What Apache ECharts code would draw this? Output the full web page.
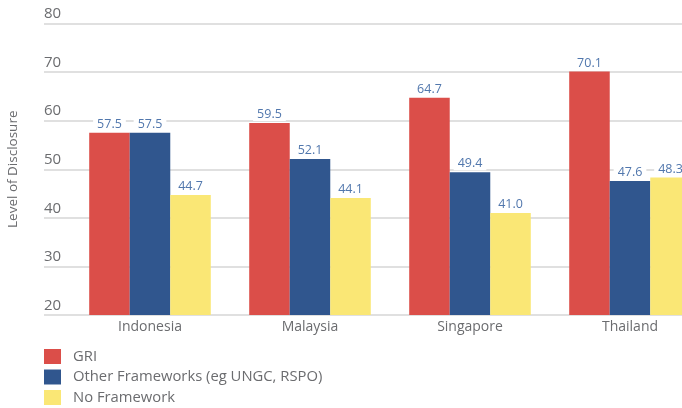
<!DOCTYPE html>
<html>
<head>
<meta charset="utf-8">
<script src="https://cdn.jsdelivr.net/npm/echarts@6/dist/echarts.min.js"></script>
<style>
  html, body { margin: 0; padding: 0; background: #fff; }
  #chart { width: 682px; height: 408px; }
</style>
</head>
<body>
<div id="chart"></div>
<script>
// Countries on the category axis
const countries = ['Indonesia', 'Malaysia', 'Singapore', 'Thailand'];

// Average level of disclosure by reporting framework
const griValues = [57.5, 59.5, 64.7, 70.1];
const otherValues = [57.5, 52.1, 49.4, 47.6];
const noFrameworkValues = [44.7, 44.1, 41.0, 48.3];

const seriesNames = ['GRI', 'Other Frameworks (eg UNGC, RSPO)', 'No Framework'];
const seriesColors = ['#DB4E49', '#30568E', '#FAE775'];

// Value axis range and tick step
const yMin = 20;
const yMax = 80;
const yStep = 10;

const FONT = '"Open Sans", "DejaVu Sans", sans-serif';
const TEXT_GREY = '#6b6c6f';
const LABEL_BLUE = '#5177ad';

const chart = echarts.init(document.getElementById('chart'), null, { renderer: 'canvas' });

const valueLabel = {
  show: true,
  position: 'top',
  distance: 2,
  color: LABEL_BLUE,
  fontFamily: FONT,
  fontSize: 12.5,
  backgroundColor: '#fff',
  padding: [0, 4, 0, 4],
  formatter: p => p.value.toFixed(1)
};

function barSeries(name, values, color) {
  return {
    name: name,
    type: 'bar',
    xAxisIndex: 0,
    yAxisIndex: 0,
    data: values,
    barGap: '0%',
    barCategoryGap: '24%',
    itemStyle: { color: color },
    label: valueLabel,
    z: 3
  };
}

const plotTop = 23.5;
const plotBottom = 408 - 315;

chart.setOption({
  animation: false,
  backgroundColor: '#fff',
  color: seriesColors,
  grid: [
    // bars: the last group runs past the right edge of the canvas
    { left: 70, right: -28, top: plotTop, bottom: plotBottom, containLabel: false, outerBoundsMode: 'none' },
    // gridlines and tick labels
    { left: 44, right: 0, top: plotTop, bottom: plotBottom, containLabel: false, outerBoundsMode: 'none' }
  ],
  xAxis: [
    {
      type: 'category',
      gridIndex: 0,
      data: countries,
      axisLine: { show: false },
      axisTick: { show: false },
      axisLabel: { color: TEXT_GREY, fontFamily: FONT, fontSize: 14, margin: 5 }
    },
    {
      type: 'value',
      gridIndex: 1,
      show: false
    }
  ],
  yAxis: [
    {
      type: 'value',
      gridIndex: 0,
      min: yMin, max: yMax, interval: yStep,
      axisLine: { show: false },
      axisTick: { show: false },
      axisLabel: { show: false },
      splitLine: { show: false }
    },
    {
      type: 'value',
      gridIndex: 1,
      min: yMin, max: yMax, interval: yStep,
      name: 'Level of Disclosure',
      nameLocation: 'middle',
      nameRotate: 90,
      nameGap: 24,
      nameTextStyle: { color: TEXT_GREY, fontFamily: FONT, fontSize: 13.5 },
      axisLine: { show: false },
      axisTick: { show: false },
      axisLabel: {
        inside: true,
        margin: 0,
        align: 'left',
        verticalAlign: 'bottom',
        padding: [0, 0, 2, 0],
        color: TEXT_GREY,
        fontFamily: FONT,
        fontSize: 15
      },
      splitLine: { show: true, lineStyle: { color: '#d6d6d6', width: 1.5 } },
      z: 1
    }
  ],
  legend: {
    orient: 'vertical',
    left: 44,
    top: 349,
    padding: 0,
    itemWidth: 17,
    itemHeight: 15,
    itemGap: 5.5,
    icon: 'rect',
    data: seriesNames,
    textStyle: { color: TEXT_GREY, fontFamily: FONT, fontSize: 14.8, lineHeight: 15, padding: [0, 0, 0, 7] }
  },
  series: [
    barSeries(seriesNames[0], griValues, seriesColors[0]),
    barSeries(seriesNames[1], otherValues, seriesColors[1]),
    barSeries(seriesNames[2], noFrameworkValues, seriesColors[2])
  ]
});
</script>
</body>
</html>
